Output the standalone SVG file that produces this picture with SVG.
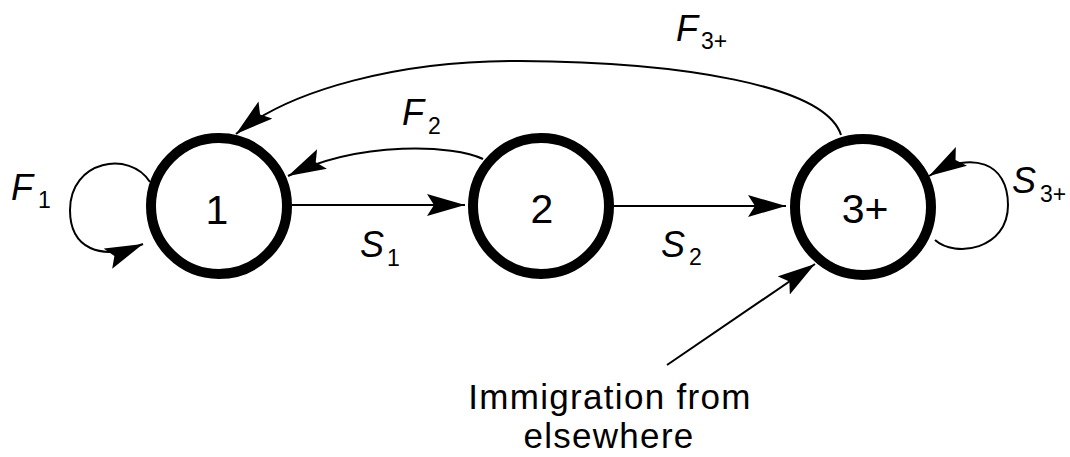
<svg xmlns="http://www.w3.org/2000/svg" width="1070" height="457" viewBox="0 0 1070 457">
<style>
.node{fill:#fff;stroke:#000;stroke-width:10}
.nt{font-family:"Liberation Sans",Arial,sans-serif;font-size:41px;text-anchor:middle;fill:#000}
.lbl{font-family:"Liberation Sans",Arial,sans-serif;font-size:36px;font-style:italic;fill:#000}
.sub{font-family:"Liberation Sans",Arial,sans-serif;font-size:23px;fill:#000}
.edge{fill:none;stroke:#000;stroke-width:2;marker-end:url(#ah)}
.cap{font-family:"Liberation Sans",Arial,sans-serif;font-size:35px;text-anchor:middle;fill:#000;letter-spacing:1.3px}
</style>
<defs>
<marker id="ah" markerUnits="userSpaceOnUse" markerWidth="40" markerHeight="24" refX="38" refY="11" orient="auto">
<path d="M0,0 L38,11 L0,22 L7,11 z" fill="#000"/>
</marker>
</defs>
<rect width="1070" height="457" fill="#fff"/>
<g id="connectors">
<path id="e-s1" class="edge" d="M292 205 L465 205"/>
<path id="e-s2" class="edge" d="M614 206 L786 206"/>
<path id="e-f2" class="edge" d="M483 159 C455 145 360 140 288 176"/>
<path id="e-f3" class="edge" d="M841 135 C825 85 680 62 520 61 C400 60 290 90 236 134"/>
<path id="e-f1" class="edge" d="M150 182 C130 150 70 160 70 210 C70 248 100 262 143 244"/>
<path id="e-s3" class="edge" d="M935 240 C955 258 1008 250 1008 205 C1008 162 972 150 929 176"/>
<path id="e-imm" class="edge" d="M667 365 L815 264"/>
</g>
<g id="node-1">
<circle class="node" cx="219" cy="206" r="68"/>
<text class="nt" x="217" y="224">1</text>
</g>
<g id="node-2">
<circle class="node" cx="541" cy="206" r="68"/>
<text class="nt" x="542" y="223">2</text>
</g>
<g id="node-3">
<circle class="node" cx="863" cy="207" r="68"/>
<text class="nt" x="865" y="223">3+</text>
</g>
<g id="labels">
<text class="lbl" x="11" y="200">F</text><text class="sub" x="38" y="208">1</text>
<text class="lbl" x="402" y="125">F</text><text class="sub" x="428" y="134">2</text>
<text class="lbl" x="676" y="41">F</text><text class="sub" x="701" y="49">3+</text>
<text class="lbl" x="360" y="257">S</text><text class="sub" x="387" y="266">1</text>
<text class="lbl" x="661" y="257">S</text><text class="sub" x="689" y="265">2</text>
<text class="lbl" x="1012" y="193">S</text><text class="sub" x="1040" y="202">3+</text>
<text class="cap" x="610" y="409">Immigration from</text>
<text class="cap" x="609" y="448">elsewhere</text>
</g>
</svg>
